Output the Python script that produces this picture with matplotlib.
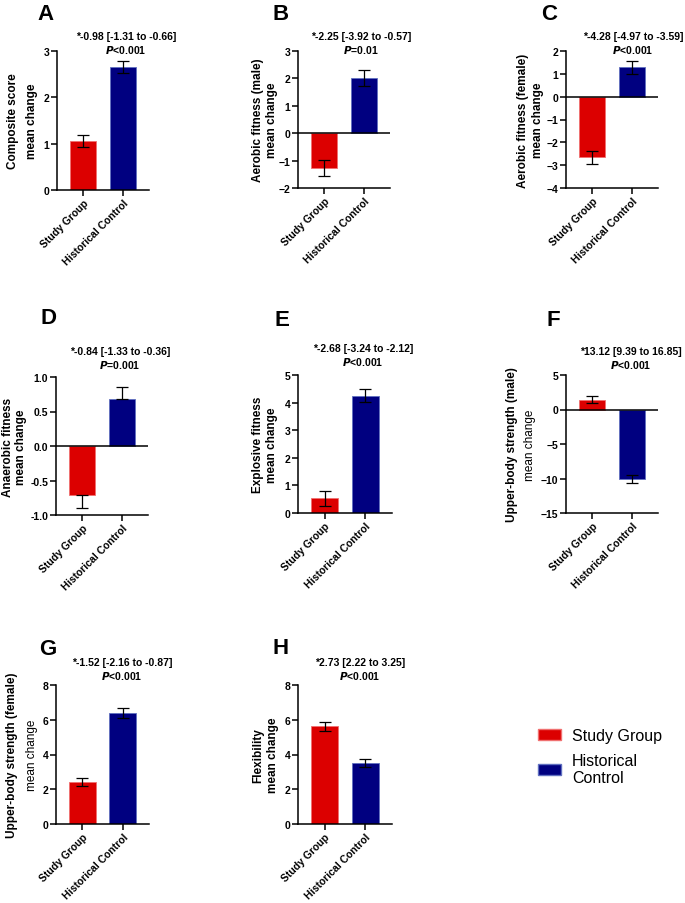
import matplotlib
matplotlib.use('Agg')
import matplotlib.pyplot as plt
from matplotlib.patches import Patch

plt.rcParams['font.family'] = ['Liberation Sans', 'DejaVu Sans']

# data
panels = ['A', 'B', 'C', 'D', 'E', 'F', 'G', 'H']
groups = ['Study Group', 'Historical Control']
study_mean = [1.05, -1.28, -2.65, -0.71, 0.53, 1.40, 2.40, 5.62]
study_err = [0.13, 0.29, 0.28, 0.19, 0.26, 0.53, 0.24, 0.26]
control_mean = [2.65, 2.03, 1.29, 0.68, 4.25, -10.07, 6.37, 3.49]
control_err = [0.13, 0.29, 0.29, 0.18, 0.23, 0.62, 0.29, 0.23]
ylabels = ['Composite score', 'Aerobic fitness (male)', 'Aerobic fitness (female)',
           'Anaerobic fitness', 'Explosive fitness', 'Upper-body strength (male)',
           'Upper-body strength (female)', 'Flexibility']
effects = ['*-0.98 [-1.31 to -0.66]', '*-2.25 [-3.92 to -0.57]', '*-4.28 [-4.97 to -3.59]',
           '*-0.84 [-1.33 to -0.36]', '*-2.68 [-3.24 to -2.12]', '*13.12 [9.39 to 16.85]',
           '*-1.52 [-2.16 to -0.87]', '*2.73 [2.22 to 3.25]']
pvals = ['<0.001', '=0.01', '<0.001', '=0.001', '<0.001', '<0.001', '<0.001', '<0.001']
yticks = [[0, 1, 2, 3], [-2, -1, 0, 1, 2, 3], [-4, -3, -2, -1, 0, 1, 2],
          [-1.0, -0.5, 0.0, 0.5, 1.0], [0, 1, 2, 3, 4, 5], [-15, -10, -5, 0, 5],
          [0, 2, 4, 6, 8], [0, 2, 4, 6, 8]]

RED = '#dc0000'
BLUE = '#000080'

W, H = 685, 904
fig = plt.figure(figsize=(W / 100, H / 100), dpi=100)

# layout in pixels: axes box (left, top, right, bottom)
boxes = [(57, 52, 149, 191), (298, 52, 390, 189), (566, 52, 658, 189),
         (56, 378, 148, 516), (298, 376, 392, 514), (566, 376, 658, 514),
         (56, 686, 149, 825), (298, 686, 392, 825)]
letter_pos = [(46, 14), (281, 14), (549, 14), (49, 319), (282, 320), (553, 320),
              (48, 650), (281, 649)]
note_pos = [(126, 37), (361, 37), (633, 37), (120, 352), (363, 349), (631, 352),
            (122, 663), (360, 663)]
ylab_x = [(13, 32), (258, 272), (523, 538), (8, 21), (258, 272), (512, 530),
          (12, 32), (258, 273)]
bold_second = [True, True, True, True, True, False, False, True]
one_sided = [False, False, False, True, False, False, False, False]


def fx(x):
    return x / W


def fy(y):
    return 1 - y / H


for i in range(8):
    l, t, r, b = boxes[i]
    ax = fig.add_axes([fx(l), fy(b), (r - l) / W, (b - t) / H])
    vals = [study_mean[i], control_mean[i]]
    errs = [study_err[i], control_err[i]]
    if one_sided[i]:
        yerr = [[0 if v > 0 else e for v, e in zip(vals, errs)],
                [e if v > 0 else 0 for v, e in zip(vals, errs)]]
    else:
        yerr = errs
    ax.bar([0, 1], vals, width=0.67, color=[RED, BLUE],
           edgecolor=['#f07070', '#6070c0'], linewidth=0.6, zorder=2)
    ax.errorbar([0, 1], vals, yerr=yerr, fmt='none', ecolor='black',
                elinewidth=0.9, capsize=4, capthick=0.9, zorder=3)
    ax.set_xlim(-0.65, 1.65)
    ax.set_ylim(yticks[i][0], yticks[i][-1])
    ax.set_yticks(yticks[i])
    if i == 3:
        ax.set_yticklabels(['%.1f' % v for v in yticks[i]])
    ax.set_xticks([0, 1])
    ax.set_xticklabels(groups, rotation=45, ha='right', rotation_mode='anchor',
                       fontsize=7.5, fontweight='bold')
    for lab in ax.get_yticklabels():
        lab.set_fontweight('bold')
        lab.set_fontsize(7.5)
    ax.spines['top'].set_visible(False)
    ax.spines['right'].set_visible(False)
    ax.spines['left'].set_linewidth(1.1)
    ax.spines['bottom'].set_linewidth(1.1)
    ax.tick_params(axis='both', width=1.1, length=4, pad=1.5)
    if yticks[i][0] < 0:
        ax.axhline(0, color='black', linewidth=1.1, zorder=4)

    # y label, two lines
    yc = fy((t + b) / 2)
    fig.text(fx(ylab_x[i][0]), yc, ylabels[i], rotation=90, ha='center', va='center',
             fontsize=8.5, fontweight='bold')
    fig.text(fx(ylab_x[i][1]), yc, 'mean change', rotation=90, ha='center', va='center',
             fontsize=8.5, fontweight='bold' if bold_second[i] else 'normal')

    # panel letter and effect text
    fig.text(fx(letter_pos[i][0]), fy(letter_pos[i][1]), panels[i], ha='center',
             va='center', fontsize=16, fontweight='bold')
    nx, ny = note_pos[i]
    fig.text(fx(nx), fy(ny), effects[i], ha='center', va='center',
             fontsize=7.5, fontweight='bold')
    fig.text(fx(nx), fy(ny + 13), '$\\mathbfit{P}$' + pvals[i], ha='center', va='center',
             fontsize=7.5, fontweight='bold')

handles = [Patch(facecolor=RED, edgecolor='#f07070'),
           Patch(facecolor=BLUE, edgecolor='#6070c0')]
fig.legend(handles, ['Study Group', 'Historical\nControl'], loc='upper left',
           bbox_to_anchor=(fx(524), fy(715)), frameon=False, fontsize=11.5,
           handlelength=1.4, handleheight=0.7, handletextpad=0.7, labelspacing=0.6)

fig.savefig('out.png', dpi=100)
